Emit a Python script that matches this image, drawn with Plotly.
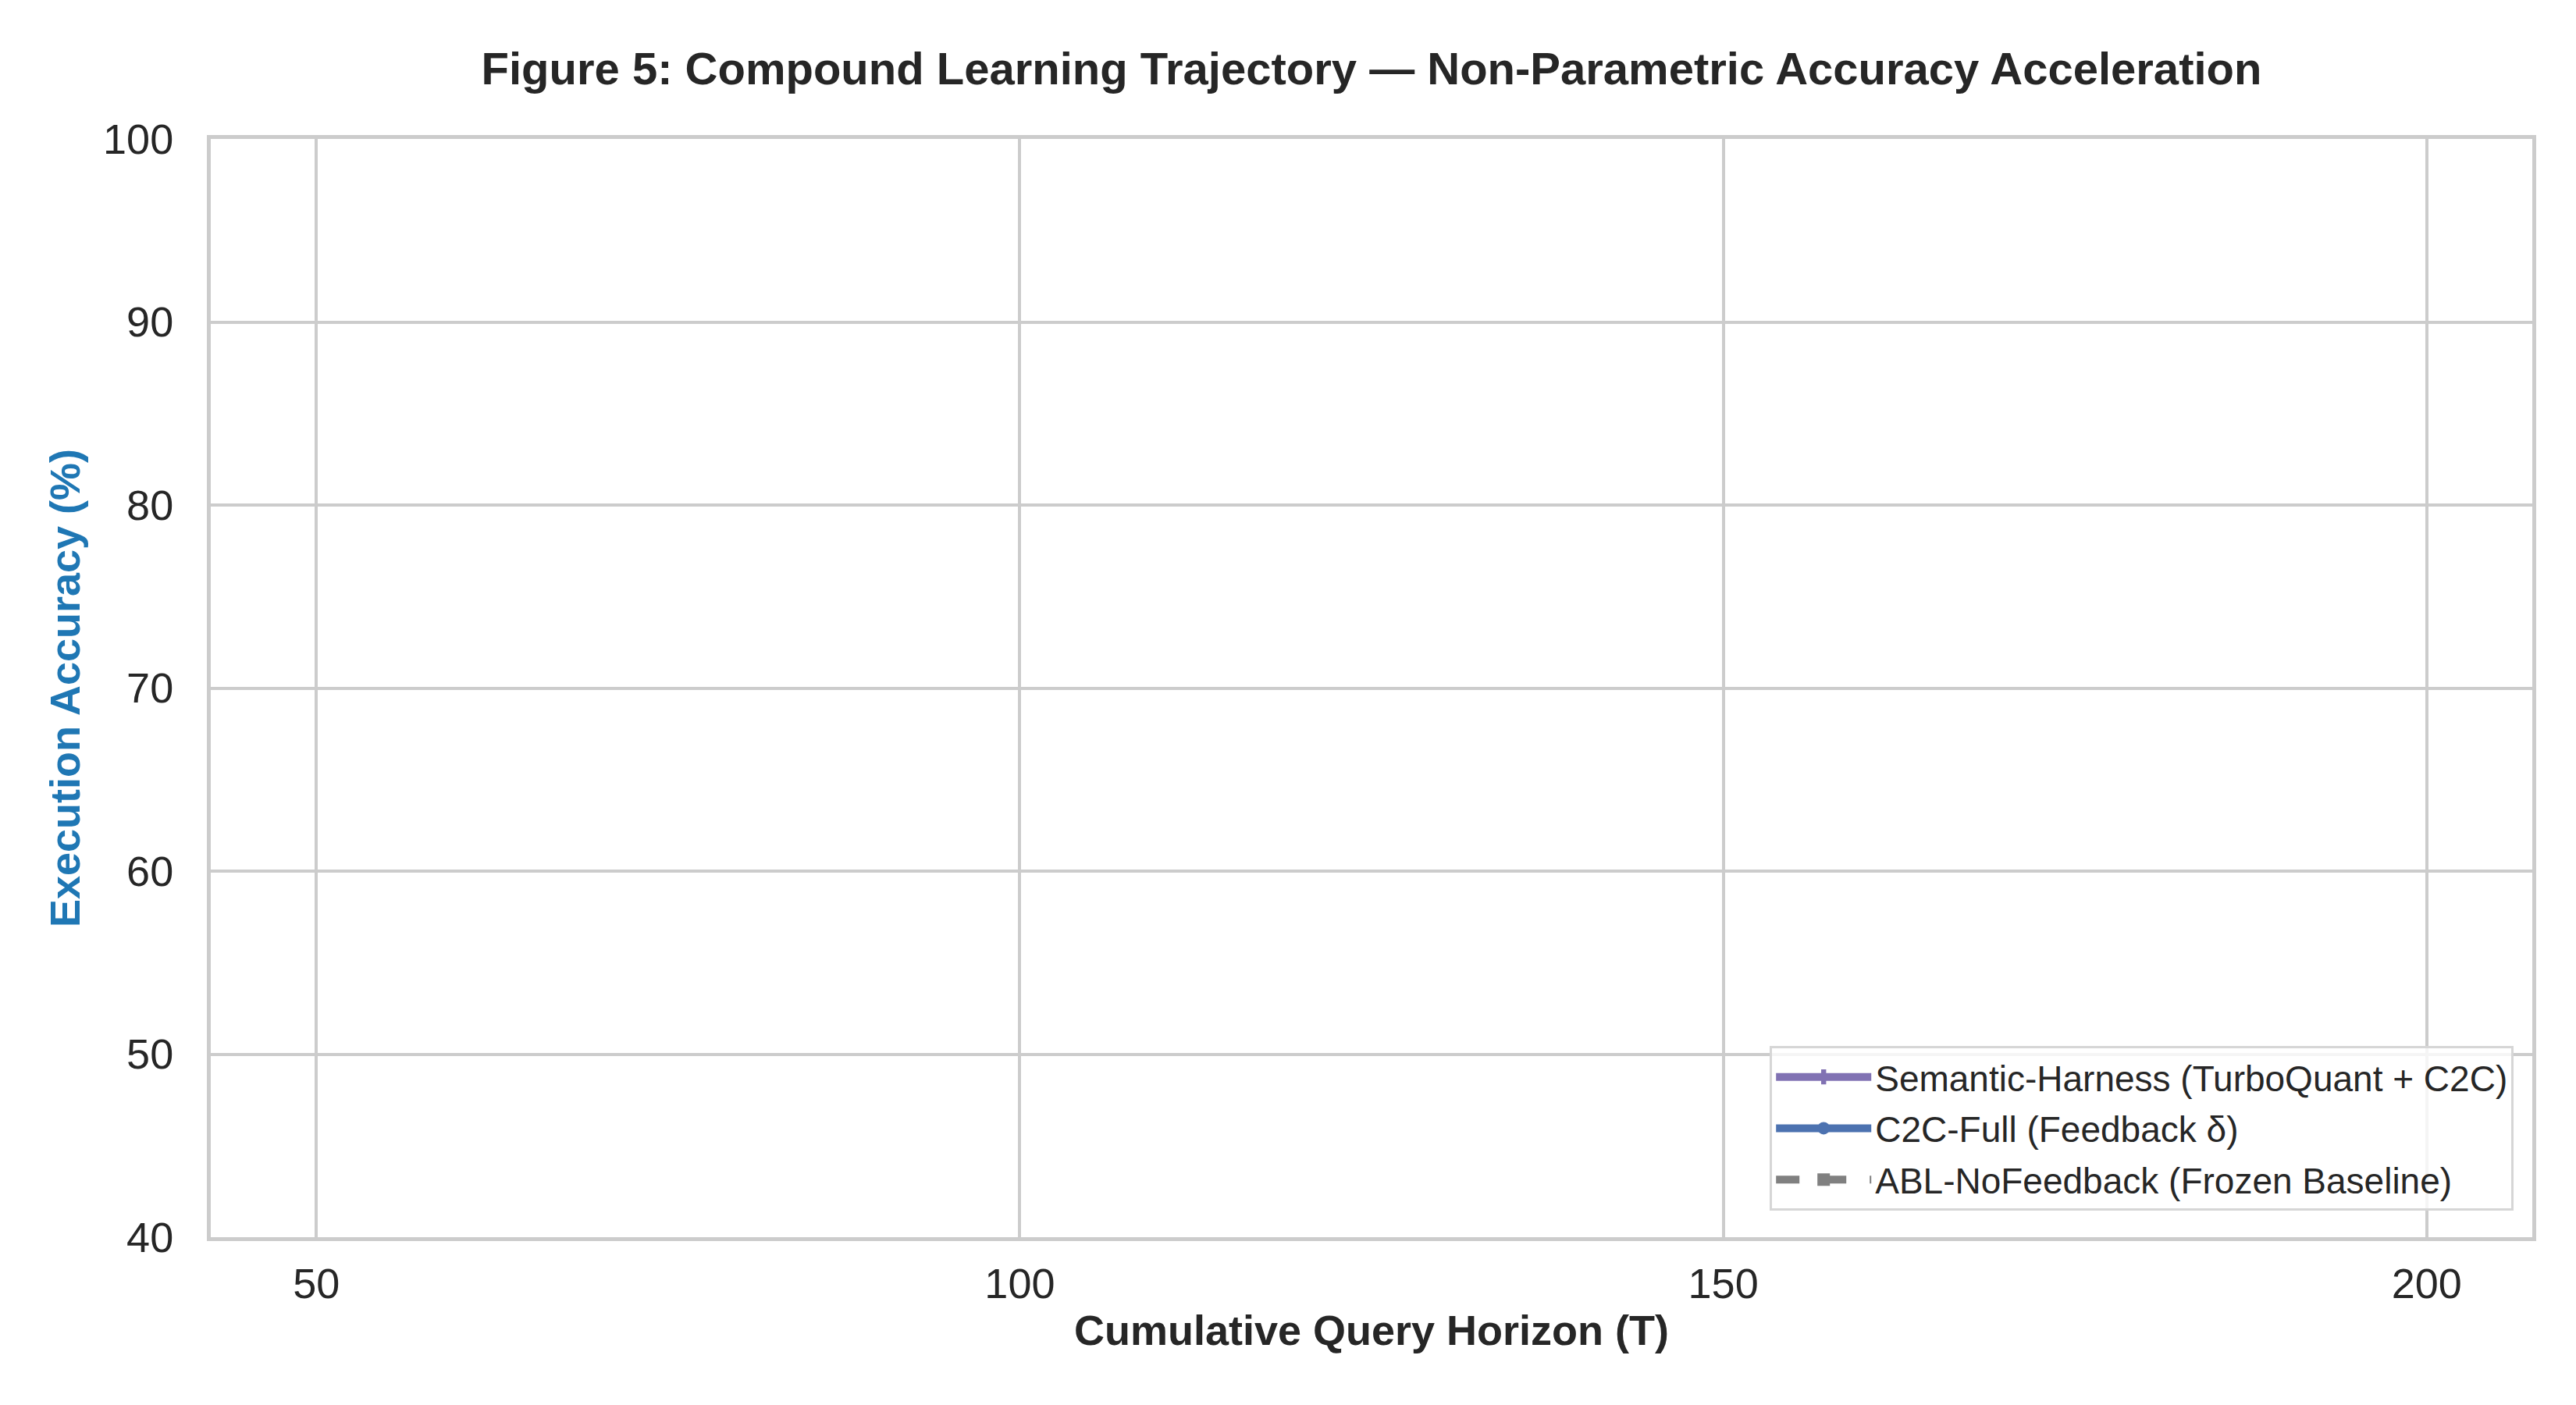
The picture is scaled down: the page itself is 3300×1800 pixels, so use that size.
import plotly.graph_objects as go

# Cumulative query horizon (T) checkpoints
horizon = [50, 100, 150, 200]

# Accuracy values as recorded (fractions, so they fall below the 40-100 % axis window)
semantic_harness = [0.78, 0.84, 0.89, 0.93]
c2c_full = [0.72, 0.77, 0.81, 0.84]
abl_nofeedback = [0.65, 0.65, 0.65, 0.65]

series_names = [
    "Semantic-Harness (TurboQuant + C2C)",
    "C2C-Full (Feedback δ)",
    "ABL-NoFeedback (Frozen Baseline)",
]

x_ticks = [50, 100, 150, 200]
y_ticks = [40, 50, 60, 70, 80, 90, 100]

FONT = "Liberation Sans, Arial, Helvetica, sans-serif"
TEXT = "#262626"
GRID = "#cccccc"

fig = go.Figure()
fig.add_trace(go.Scatter(
    x=horizon, y=semantic_harness, name=series_names[0], mode="lines+markers",
    legendgroup="sh",
    line=dict(color="#8172b3", width=10),
    marker=dict(symbol="cross", size=36, color="#8172b3"),
))
fig.add_trace(go.Scatter(
    x=horizon, y=c2c_full, name=series_names[1], mode="lines+markers",
    legendgroup="c2c",
    line=dict(color="#4c72b0", width=10),
    marker=dict(symbol="circle", size=36, color="#4c72b0"),
))
fig.add_trace(go.Scatter(
    x=horizon, y=abl_nofeedback, name=series_names[2], mode="lines+markers",
    legendgroup="abl",
    line=dict(color="#808080", width=10, dash="dash"),
    marker=dict(symbol="square", size=32, color="#808080"),
))

fig.update_layout(
    width=3300,
    height=1800,
    autosize=False,
    margin=dict(l=262, r=64, t=170, b=223),
    paper_bgcolor="white",
    plot_bgcolor="white",
    font=dict(family=FONT, color=TEXT, size=54),
    title=dict(
        text="<b>Figure 5: Compound Learning Trajectory — Non-Parametric Accuracy Acceleration</b>",
        font=dict(family=FONT, size=58, color=TEXT),
        x=0.5, xref="paper", xanchor="center",
        y=1 - 80 / 1800, yref="container", yanchor="middle",
    ),
    legend=dict(
        x=0.992, y=0.024, xanchor="right", yanchor="bottom",
        bgcolor="rgba(255,255,255,0.8)",
        bordercolor="#d6d6d6", borderwidth=3,
        font=dict(family=FONT, size=46, color=TEXT),
        itemwidth=122,
        tracegroupgap=3,
    ),
    showlegend=True,
)

fig.update_xaxes(
    range=[42.5, 207.5],
    tickvals=x_ticks,
    ticks="", ticklabelstandoff=8,
    tickfont=dict(size=54, color=TEXT),
    showgrid=True, gridcolor=GRID, gridwidth=4,
    zeroline=False,
    showline=True, linecolor=GRID, linewidth=5, mirror=True,
    title=dict(text="<b>Cumulative Query Horizon (T)</b>", font=dict(size=54, color=TEXT), standoff=14),
)
fig.update_yaxes(
    range=[40, 100],
    tickvals=y_ticks,
    ticks="", ticklabelstandoff=32,
    tickfont=dict(size=54, color=TEXT),
    showgrid=True, gridcolor=GRID, gridwidth=4,
    zeroline=False,
    showline=True, linecolor=GRID, linewidth=5, mirror=True,
    title=dict(text="<b>Execution Accuracy (%)</b>", font=dict(size=54, color="#1f77b4"), standoff=14),
)

fig.write_html("out.html")
